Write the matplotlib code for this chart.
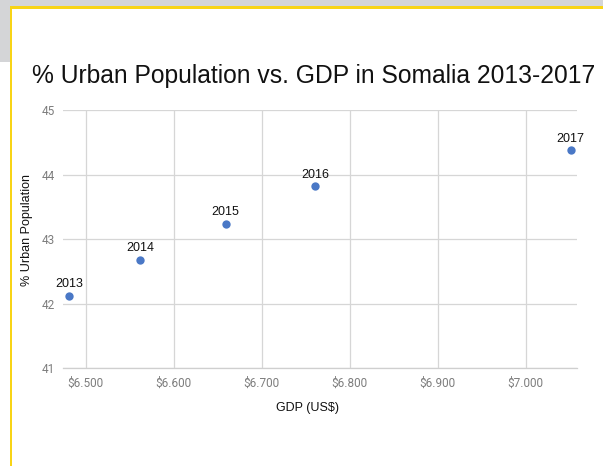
import matplotlib
matplotlib.use("Agg")
import matplotlib.pyplot as plt
from matplotlib.patches import Rectangle

# GDP in millions of US$ and share of urban population (%)
years = ["2013", "2014", "2015", "2016", "2017"]
gdp = [6481, 6562, 6659, 6761, 7051]
urban_pct = [42.12, 42.68, 43.24, 43.82, 44.38]

x_ticks = [6500, 6600, 6700, 6800, 6900, 7000]
x_tick_labels = ["$6.500", "$6.600", "$6.700", "$6.800", "$6.900", "$7.000"]
y_ticks = [41, 42, 43, 44, 45]

W, H = 603, 466
fig = plt.figure(figsize=(W / 100, H / 100), dpi=100)
fig.patch.set_facecolor("white")

# page frame: grey strip, yellow border lines
gray = "#d4d5d7"
yellow = "#f8d416"
fig.patches.append(Rectangle((0, 1 - 6 / H), 1, 6 / H, transform=fig.transFigure,
                             facecolor=gray, edgecolor="none", zorder=0))
fig.patches.append(Rectangle((0, 1 - 62 / H), 10 / W, 62 / H, transform=fig.transFigure,
                             facecolor=gray, edgecolor="none", zorder=0))
fig.patches.append(Rectangle((10 / W, 1 - 9 / H), 1 - 10 / W, 3 / H, transform=fig.transFigure,
                             facecolor=yellow, edgecolor="none", zorder=1))
fig.patches.append(Rectangle((10 / W, 0), 2 / W, 1 - 6 / H, transform=fig.transFigure,
                             facecolor=yellow, edgecolor="none", zorder=1))

left, right, top, bottom = 62.7, 577.3, 110.0, 368.3
ax = fig.add_axes([left / W, 1 - bottom / H, (right - left) / W, (bottom - top) / H])
ax.set_facecolor("none")

ax.scatter(gdp, urban_pct, s=36, color="#4a78c6", zorder=3, linewidths=0)
for yr, gx, uy in zip(years, gdp, urban_pct):
    ax.annotate(yr, (gx, uy), xytext=(0, 8.3), textcoords="offset points",
                ha="center", va="center", fontsize=9, color="#111111",
                family="Liberation Sans", zorder=4)

ax.set_xlim(6473.9, 7058.6)
ax.set_ylim(41, 45)
ax.set_xticks(x_ticks)
ax.set_xticklabels(x_tick_labels)
ax.set_yticks(y_ticks)

for lab in ax.get_xticklabels() + ax.get_yticklabels():
    lab.set_family("Roboto")
    lab.set_fontsize(8.5)
    lab.set_color("#7d7d7d")
ax.tick_params(axis="both", length=0)
ax.tick_params(axis="x", pad=6.3)
ax.tick_params(axis="y", pad=5.5)

ax.grid(True, color="#d6d6d6", linewidth=0.9)
ax.set_axisbelow(True)
for side in ["top", "right", "left"]:
    ax.spines[side].set_visible(False)
ax.spines["bottom"].set_color("#cfcfcf")
ax.spines["bottom"].set_linewidth(0.9)

fig.text(314 / W, 1 - 76 / H, "% Urban Population vs. GDP in Somalia 2013-2017",
         ha="center", va="center", fontsize=17.7, family="Liberation Sans", color="#111111")
fig.text(307 / W, 1 - 408 / H, "GDP (US$)", ha="center", va="center",
         fontsize=9, family="Liberation Sans", color="#111111")
fig.text(27 / W, 1 - 230 / H, "% Urban Population", ha="center", va="center",
         rotation=90, fontsize=9, family="Liberation Sans", color="#111111")

fig.savefig("out.png", dpi=100)
